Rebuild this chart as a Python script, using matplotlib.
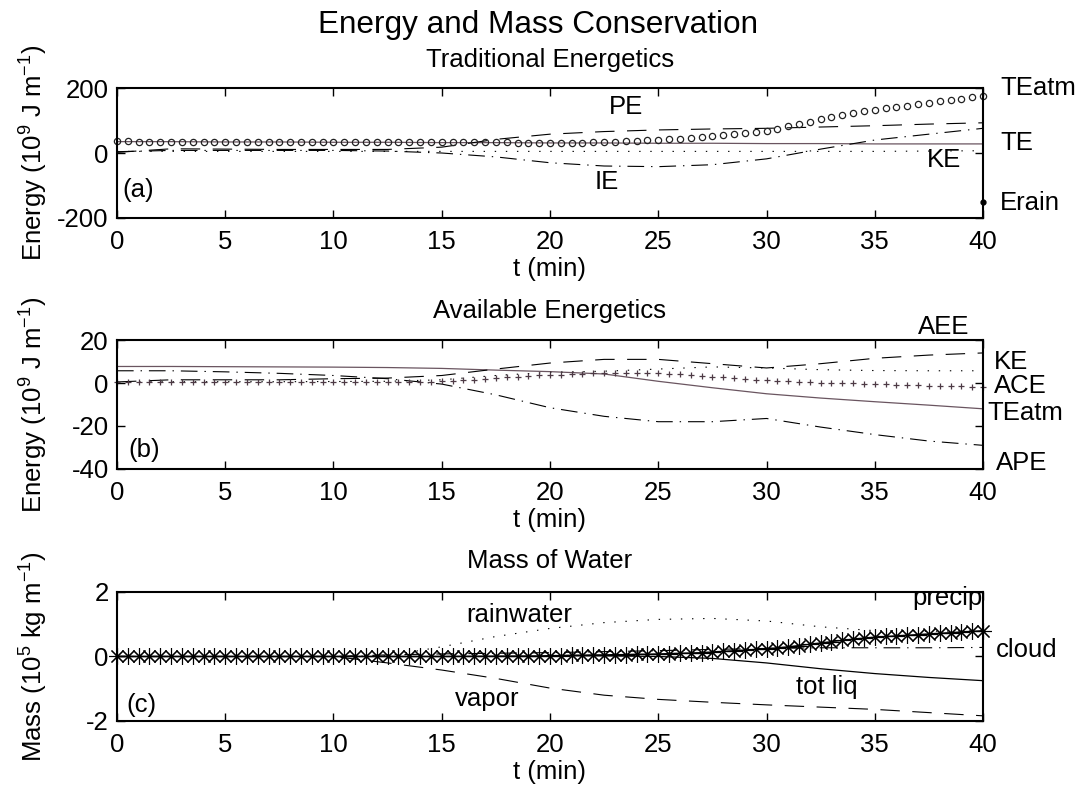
import numpy as np
import matplotlib.pyplot as plt

plt.rcParams['font.family'] = ['Liberation Sans', 'DejaVu Sans']
plt.rcParams['mathtext.fontset'] = 'custom'
plt.rcParams['mathtext.rm'] = 'Liberation Sans'
plt.rcParams['mathtext.it'] = 'Liberation Sans:italic'
plt.rcParams['axes.unicode_minus'] = False
plt.rcParams['lines.scale_dashes'] = False

# coarse time grid for the curves, fine grid (every 0.5 min) for marker series
t = [0, 2.5, 5, 7.5, 10, 12.5, 15, 17.5, 20, 22.5, 25, 27.5, 30, 32.5, 35, 37.5, 40]
tf = np.arange(0, 40.5, 0.5)

# (a) traditional energetics, 10^9 J/m
te_atm_a = [36, 36, 35, 35, 35, 35, 35, 35, 35, 35, 35, 35, 35, 35, 35, 35, 35, 35, 35, 35,
            35, 35, 35, 35, 35, 35, 35, 35, 34, 34, 34, 34, 34, 34, 34,
            33, 33, 32, 32, 31, 31, 31, 32, 32, 33, 34, 35, 36, 37, 39, 40, 42, 44, 46, 49,
            52, 55, 58, 61, 65, 69, 75, 82, 89, 96, 104, 111, 118, 124, 129, 133, 138, 142,
            146, 150, 155, 159, 163, 167, 171, 175]
te_a = [35, 35, 34, 34, 33, 33, 32, 32, 31, 31, 30, 30, 29, 29, 28, 28, 28]
pe_a = [2, 13, 12, 11, 11, 11, 18, 42, 58, 66, 71, 74, 76, 80, 84, 89, 93]
ie_a = [4, 8, 8, 8, 8, 6, 0, -12, -30, -40, -42, -36, -18, 12, 40, 58, 76]
ke_a = [5, 5, 5, 5, 5, 5, 5, 5, 5, 5, 5, 5, 5, 5, 5, 6, 7]
erain_t = [40]
erain_a = [-150]

# (b) available energetics, 10^9 J/m
te_atm_b = [7.7, 7.7, 7.6, 7.5, 7.4, 7.2, 6.8, 6.0, 5.3, 4.2, 0.8, -2.2, -5.0, -7.0, -8.7, -10.3, -12.0]
aee_b = [0.5, 1.5, 1.5, 1.5, 2.0, 2.3, 3.5, 6.5, 9.3, 11.0, 11.0, 9.0, 7.0, 9.0, 11.5, 13.0, 14.0]
ape_b = [5.7, 5.7, 5.2, 4.5, 3.5, 2.0, -0.5, -5.5, -11.5, -15.5, -18.0, -18.0, -16.5, -20.5, -24.0, -27.0, -29.0]
ke_b = [0.5, 0.6, 0.6, 0.6, 0.7, 0.8, 1.5, 3.5, 5.0, 5.5, 6.5, 7.5, 7.0, 6.2, 5.8, 5.7, 5.7]
ace_b = [0.5, 0.5, 0.5, 0.5, 0.5, 0.5, 0.5, 0.5, 0.5, 0.5, 0.5, 0.5, 0.5, 0.5, 0.5,
         0.5, 0.5, 0.5, 0.5, 0.5, 0.5, 0.5, 0.5, 0.5, 0.5, 0.5, 0.5, 0.5, 0.6, 0.7,
         0.8, 1.0, 1.3, 1.6, 2.0, 2.3, 2.6, 2.9, 3.2, 3.5,
         3.7, 3.9, 4.1, 4.3, 4.5, 4.6, 4.7, 4.8, 4.8, 4.7,
         4.6, 4.4, 4.1, 3.8, 3.4, 3.0, 2.6, 2.2, 1.9, 1.6,
         1.4, 1.1, 0.9, 0.6, 0.4, 0.2, 0.1, 0.0, -0.2, -0.3,
         -0.5, -0.6, -0.8, -0.9, -1.1, -1.2, -1.4, -1.5, -1.6, -1.8, -1.9]

# (c) mass of water, 10^5 kg/m
precip_c = [0, 0, 0, 0, 0, 0, 0, 0, 0, 0, 0, 0, 0, 0, 0, 0, 0, 0, 0, 0,
            0, 0, 0, 0, 0, 0, 0, 0, 0, 0, 0, 0, 0, 0, 0, 0, 0, 0, 0, 0,
            0.03, 0.03, 0.04, 0.04, 0.05, 0.05, 0.06, 0.06, 0.07, 0.07,
            0.08, 0.09, 0.10, 0.11, 0.12, 0.14, 0.16, 0.18, 0.20, 0.22,
            0.24, 0.27, 0.30, 0.34, 0.38, 0.42, 0.46, 0.50, 0.54, 0.57,
            0.60, 0.62, 0.64, 0.66, 0.68, 0.70, 0.72, 0.74, 0.76, 0.78, 0.80]
rain_c = [0, 0, 0, 0, 0, 0.02, 0.3, 0.62, 0.87, 1.05, 1.15, 1.18, 1.1, 0.92, 0.8, 0.78, 0.8]
vapor_c = [0, 0, 0, 0, 0, -0.2, -0.42, -0.68, -0.98, -1.2, -1.33, -1.42, -1.5, -1.57, -1.64, -1.74, -1.84]
totliq_c = [0, 0, 0, 0, 0, 0, 0, 0.01, 0.02, 0.02, 0.0, -0.06, -0.2, -0.38, -0.53, -0.65, -0.75]
cloud_c = [0, 0, 0, 0, 0, 0.05, 0.08, 0.1, 0.12, 0.15, 0.18, 0.22, 0.25, 0.27, 0.27, 0.27, 0.28]

dash = (0, (14, 9))
dashdot = (0, (12, 5, 1, 5))
dot = (0, (1, 7))
solid_col = '#6a5560'
fs = 18.5

fig = plt.figure(figsize=(10.76, 7.93), dpi=100)
ax1 = fig.add_axes([0.1087, 0.7251, 0.8049, 0.1639])
ax2 = fig.add_axes([0.1087, 0.4086, 0.8049, 0.1626])
ax3 = fig.add_axes([0.1087, 0.0908, 0.8049, 0.1627])

ax1.plot(t, te_a, color=solid_col, lw=0.9)
ax1.plot(t, pe_a, color='k', lw=0.8, linestyle=dash)
ax1.plot(t, ie_a, color='k', lw=0.8, linestyle=dashdot)
ax1.plot(t, ke_a, color='k', lw=0.8, linestyle=dot)
ax1.plot(tf, te_atm_a, linestyle='none', marker='o', ms=4.5, mfc='none', mec='#222222', mew=0.9, clip_on=False)
ax1.plot(erain_t, erain_a, linestyle='none', marker='.', ms=7, color='k', clip_on=False)
ax1.set_ylim(-200, 200)
ax1.set_yticks([-200, 0, 200])
ax1.set_title('Traditional Energetics', fontsize=fs, pad=15)
ax1.set_ylabel('Energy (10$^{9}$ J m$^{\\mathrm{-1}}$)', fontsize=fs)
for s, x, y, ha in [('TEatm', 40.8, 199, 'left'), ('TE', 40.8, 30, 'left'), ('KE', 38.2, -22, 'center'),
                    ('Erain', 40.8, -155, 'left'), ('PE', 23.5, 143, 'center'),
                    ('IE', 22.6, -88, 'center'), ('(a)', 0.23, -114, 'left')]:
    ax1.text(x, y, s, fontsize=fs, ha=ha, va='center', clip_on=False)

ax2.plot(t, te_atm_b, color=solid_col, lw=0.9)
ax2.plot(t, aee_b, color='k', lw=0.8, linestyle=dash)
ax2.plot(t, ape_b, color='k', lw=0.8, linestyle=dashdot)
ax2.plot(t, ke_b, color='k', lw=0.8, linestyle=dot)
ax2.plot(tf, ace_b, linestyle='none', marker='+', ms=4.5, color='#4d3a45', mew=0.9, clip_on=False)
ax2.set_ylim(-40, 20)
ax2.set_yticks([-40, -20, 0, 20])
ax2.set_title('Available Energetics', fontsize=fs, pad=16)
ax2.set_ylabel('Energy (10$^{9}$ J m$^{\\mathrm{-1}}$)', fontsize=fs)
for s, x, y, ha in [('AEE', 38.2, 26.2, 'center'), ('KE', 40.5, 9.9, 'left'), ('ACE', 40.5, -1.4, 'left'),
                    ('TEatm', 40.2, -14.1, 'left'), ('APE', 40.6, -37.4, 'left'),
                    ('(b)', 0.52, -31.2, 'left')]:
    ax2.text(x, y, s, fontsize=fs, ha=ha, va='center', clip_on=False)

ax3.plot(t, totliq_c, color='k', lw=0.9)
ax3.plot(t, vapor_c, color='k', lw=0.8, linestyle=dash)
ax3.plot(t, cloud_c, color='k', lw=0.8, linestyle=dashdot)
ax3.plot(t, rain_c, color='k', lw=0.8, linestyle=dot)
ax3.plot(tf, precip_c, color='k', lw=0.9, marker=(8, 2, 0), ms=12, mew=0.8, clip_on=False)
ax3.set_ylim(-2, 2)
ax3.set_yticks([-2, 0, 2])
ax3.set_title('Mass of Water', fontsize=fs, pad=17)
ax3.set_ylabel('Mass (10$^{5}$ kg m$^{\\mathrm{-1}}$)', fontsize=fs)
for s, x, y, ha in [('rainwater', 16.15, 1.29, 'left'), ('precip', 40, 1.8, 'right'), ('cloud', 40.6, 0.2, 'left'),
                    ('tot liq', 32.8, -0.94, 'center'), ('vapor', 17.1, -1.33, 'center'),
                    ('(c)', 0.45, -1.5, 'left')]:
    ax3.text(x, y, s, fontsize=fs, ha=ha, va='center', clip_on=False)

for ax in [ax1, ax2, ax3]:
    ax.set_xlim(0, 40)
    ax.set_xticks(np.arange(0, 41, 5))
    ax.set_xlabel('t (min)', fontsize=fs, labelpad=2)
    ax.yaxis.set_label_coords(-0.077, 0.5)
    ax.tick_params(direction='in', length=6, width=1, top=True, right=True, labelsize=fs)
    ax.tick_params(axis='x', pad=9)
    ax.tick_params(axis='y', pad=6)
    for sp in ax.spines.values():
        sp.set_linewidth(1.5)

fig.text(0.5, 1 - 33 / 793, 'Energy and Mass Conservation', fontsize=22.7, ha='center', va='baseline')
fig.savefig('out.png', dpi=100)
